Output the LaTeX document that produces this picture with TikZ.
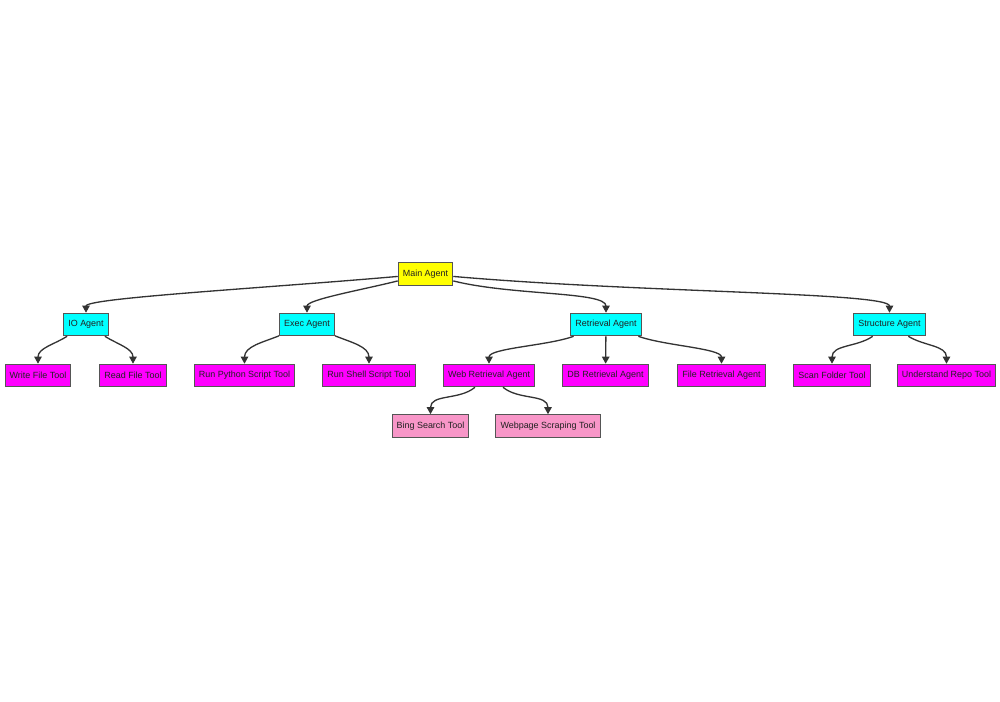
\documentclass[tikz,border=0pt]{standalone}
\usepackage{fontspec}
\setmainfont{Liberation Sans}
\usetikzlibrary{arrows.meta, positioning}
\definecolor{cmain}{HTML}{FFFF00}
\definecolor{cagent}{HTML}{00FFFF}
\definecolor{ctool}{HTML}{FF00FF}
\definecolor{csub}{HTML}{F896C8}
\definecolor{cline}{HTML}{333333}
\definecolor{ctext}{HTML}{222222}
\definecolor{cborder}{HTML}{555555}
\tikzset{
  every picture/.style={line width=0.8pt},
  box/.style={draw=cborder, fill=#1, text=ctext, line width=0.6pt, font=\fontsize{5.1}{6}\selectfont, inner xsep=2.6pt, inner ysep=0pt, minimum height=0.45cm},
  box/.default=ctool,
  arrow/.style={-{Triangle[length=4pt, width=4.2pt]}, draw=cline, line width=0.75pt},
  far/.style={in=90, out looseness=1.1, in looseness=0.12},
  near/.style={in=90, out looseness=1, in looseness=0.35},
  side/.style={in=90, out looseness=0.8, in looseness=0.45},
}

\begin{document}
\begin{tikzpicture}[x=0.02cm, y=-0.02cm]
  \useasboundingbox (0,0) rectangle (1000,701);
  % top level
  \node[box=cmain] (main) at (425.5,274) {Main Agent};
  % agents
  \node[box=cagent] (io) at (86,324.5) {IO Agent};
  \node[box=cagent] (exec) at (307,324.5) {Exec Agent};
  \node[box=cagent] (retr) at (606,324.5) {Retrieval Agent};
  \node[box=cagent] (struct) at (889.5,324.5) {Structure Agent};
  % tools
  \node[box] (write) at (38,375.5) {Write File Tool};
  \node[box] (read) at (133,375.5) {Read File Tool};
  \node[box] (python) at (244.5,375.5) {Run Python Script Tool};
  \node[box] (shell) at (369,375.5) {Run Shell Script Tool};
  \node[box] (web) at (489,375.5) {Web Retrieval Agent};
  \node[box] (db) at (605.5,375.5) {DB Retrieval Agent};
  \node[box] (file) at (721.5,375.5) {File Retrieval Agent};
  \node[box] (scan) at (832,375.5) {Scan Folder Tool};
  \node[box] (repo) at (946.5,375.5) {Understand Repo Tool};
  % web tools
  \node[box=csub] (bing) at (430.5,426) {Bing Search Tool};
  \node[box=csub] (scrape) at (548,426) {Webpage Scraping Tool};
  % edges
  \draw[arrow] (main) to[out=185, far] (io);
  \draw[arrow] (main) to[out=194, near] (exec);
  \draw[arrow] (main) to[out=-14, near] (retr);
  \draw[arrow] (main) to[out=-5, far] (struct);
  \draw[arrow] (io) to[out=-148, in=90] (write);
  \draw[arrow] (io) to[out=-32, in=90] (read);
  \draw[arrow] (exec) to[out=-158, in=90] (python);
  \draw[arrow] (exec) to[out=-22, in=90] (shell);
  \draw[arrow] (retr) to[out=-160, side] (web);
  \draw[arrow] (retr) -- (db);
  \draw[arrow] (retr) to[out=-20, side] (file);
  \draw[arrow] (struct) to[out=-145, in=90] (scan);
  \draw[arrow] (struct) to[out=-32, in=90] (repo);
  \draw[arrow] (web) to[out=-140, in=90] (bing);
  \draw[arrow] (web) to[out=-40, in=90] (scrape);
\end{tikzpicture}
\end{document}
